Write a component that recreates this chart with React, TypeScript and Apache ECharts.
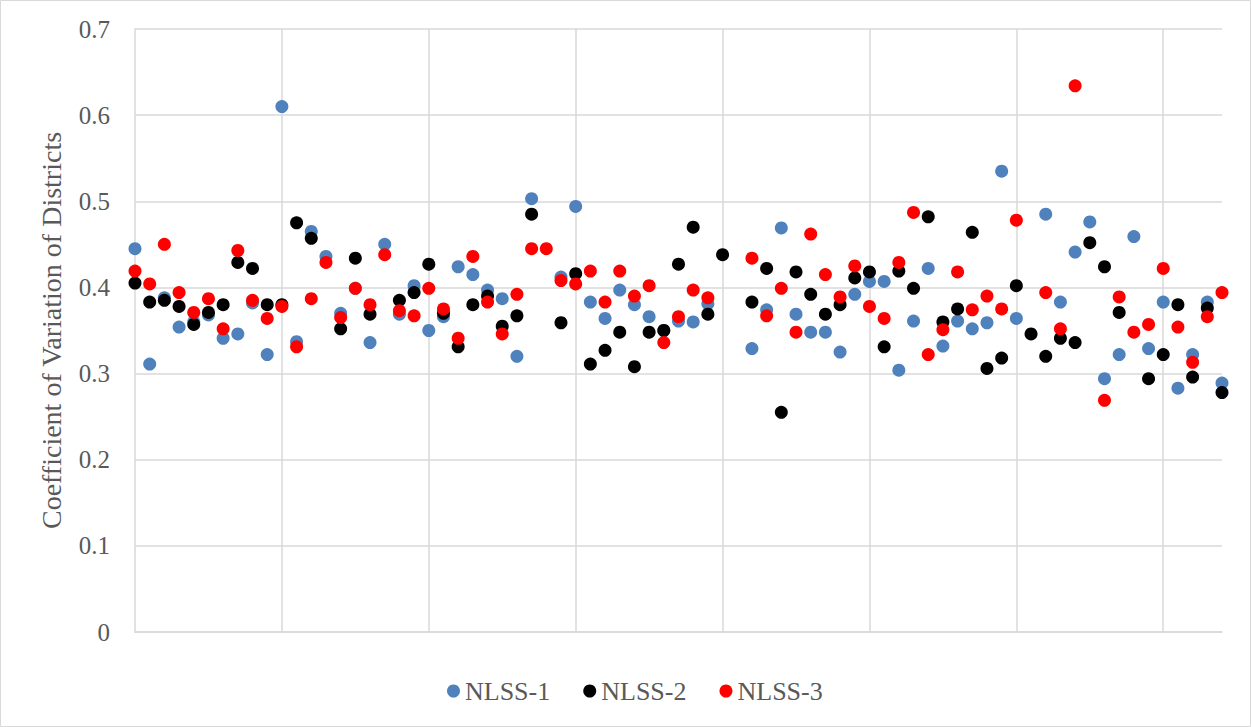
import React, { useEffect, useRef } from "react";
import * as echarts from "echarts";

// Coefficient of variation per district (index = district position on x axis), null = no point
const nlss1: (number | null)[] = [
  0.445, 0.311, 0.388, 0.354, 0.360, 0.368, 0.341, 0.346, 0.382, 0.322,
  0.610, 0.337, 0.465, 0.436, 0.370, 0.399, 0.336, 0.450, 0.369, 0.402,
  0.350, 0.366, 0.424, 0.415, 0.397, 0.387, 0.320, 0.503, null, 0.412,
  0.494, 0.383, 0.364, 0.397, 0.380, 0.366, 0.350, 0.361, 0.360, 0.381,
  null, null, 0.329, 0.374, 0.469, 0.369, 0.348, 0.348, 0.325, 0.392,
  0.407, 0.407, 0.304, 0.361, 0.422, 0.332, 0.361, 0.352, 0.359, 0.535,
  0.364, null, 0.485, 0.383, 0.441, 0.476, 0.294, 0.322, 0.459, 0.329,
  0.383, 0.283, 0.322, 0.383, 0.289,
];
const nlss2: (number | null)[] = [
  0.405, 0.383, 0.385, 0.378, 0.357, 0.371, 0.380, 0.429, 0.422, 0.380,
  0.380, 0.475, 0.457, null, 0.352, 0.434, 0.369, null, 0.385, 0.394,
  0.427, 0.370, 0.331, 0.380, 0.390, 0.355, 0.367, 0.485, null, 0.359,
  0.416, 0.311, 0.327, 0.348, 0.308, 0.348, 0.350, 0.427, 0.470, 0.369,
  0.438, null, 0.383, 0.422, 0.255, 0.418, 0.392, 0.369, 0.380, 0.411,
  0.418, 0.331, 0.419, 0.399, 0.482, 0.360, 0.375, 0.464, 0.306, 0.318,
  0.402, 0.346, 0.320, 0.341, 0.336, 0.452, 0.424, 0.371, null, 0.294,
  0.322, 0.380, 0.296, 0.376, 0.278,
];
const nlss3: (number | null)[] = [
  0.419, 0.404, 0.450, 0.394, 0.371, 0.387, 0.352, 0.443, 0.385, 0.364,
  0.378, 0.331, 0.387, 0.429, 0.365, 0.399, 0.380, 0.438, 0.373, 0.367,
  0.399, 0.375, 0.341, 0.436, 0.383, 0.346, 0.392, 0.445, 0.445, 0.408,
  0.404, 0.419, 0.383, 0.419, 0.390, 0.402, 0.336, 0.366, 0.397, 0.388,
  null, null, 0.434, 0.367, 0.399, 0.348, 0.462, 0.415, 0.389, 0.425,
  0.378, 0.364, 0.429, 0.487, 0.322, 0.351, 0.418, 0.374, 0.390, 0.375,
  0.478, null, 0.394, 0.352, 0.634, null, 0.269, 0.389, 0.348, 0.357,
  0.422, 0.354, 0.313, 0.366, 0.394,
];

const seriesNames = ["NLSS-1", "NLSS-2", "NLSS-3"];
const seriesValues = [nlss1, nlss2, nlss3];
const seriesColors = ["#4F81BD", "#000000", "#FF0000"];
const yTicks = [0, 0.1, 0.2, 0.3, 0.4, 0.5, 0.6, 0.7];
const yTitle = "Coefficient of Variation of Districts";

const FONT = "'Liberation Serif', 'Times New Roman', serif";
const GRID = "#d9d9d9";
const TEXT = "#595959";

export default function App() {
  const ref = useRef<HTMLDivElement>(null);

  useEffect(() => {
    if (!ref.current) return;
    const chart = echarts.init(ref.current, null, { renderer: "svg" });
    const toPairs = (arr: (number | null)[]) =>
      arr
        .map((v, i) => (v === null ? null : [i, v]))
        .filter((p) => p !== null) as number[][];

    chart.setOption({
      animation: false,
      backgroundColor: "#ffffff",
      graphic: [
        {
          type: "rect",
          shape: { x: 0.5, y: 0.5, width: 1250, height: 726 },
          style: { fill: "none", stroke: GRID, lineWidth: 1 },
          silent: true,
          z: 100,
        },
      ],
      grid: { left: 135, right: 29, top: 29, bottom: 95, containLabel: false },
      xAxis: {
        type: "value",
        min: 0,
        max: nlss1.length - 1,
        interval: 10,
        axisLabel: { show: false },
        axisTick: { show: false },
        axisLine: { show: true, lineStyle: { color: GRID, width: 1.5 } },
        splitLine: {
          show: true,
          showMinLine: false,
          showMaxLine: false,
          lineStyle: { color: GRID, width: 1.5 },
        },
      },
      yAxis: {
        type: "value",
        min: yTicks[0],
        max: yTicks[yTicks.length - 1],
        interval: 0.1,
        name: yTitle,
        nameLocation: "middle",
        nameGap: 70,
        nameTextStyle: { fontFamily: FONT, fontSize: 28, color: TEXT },
        axisLine: { show: true, lineStyle: { color: GRID, width: 1.5 } },
        axisTick: { show: false },
        axisLabel: {
          margin: 25,
          fontFamily: FONT,
          fontSize: 25,
          color: TEXT,
          formatter: (v: number) => (v === 0 ? "0" : v.toFixed(1)),
        },
        splitLine: { show: true, lineStyle: { color: GRID, width: 1.5 } },
      },
      legend: {
        data: seriesNames.map((n) => ({ name: n, icon: "circle" })),
        left: 442,
        top: 673,
        itemWidth: 13,
        itemHeight: 13,
        itemGap: 33,
        textStyle: { fontFamily: FONT, fontSize: 26, color: TEXT },
      },
      series: seriesNames.map((name, k) => ({
        name,
        type: "scatter",
        symbol: "circle",
        symbolSize: 13,
        itemStyle: { color: seriesColors[k], opacity: 1 },
        emphasis: { disabled: true },
        data: toPairs(seriesValues[k]),
      })),
    });

    return () => chart.dispose();
  }, []);

  return (
    <div
      ref={ref}
      style={{ position: "fixed", left: 0, top: 0, width: 1251, height: 727 }}
    />
  );
}
